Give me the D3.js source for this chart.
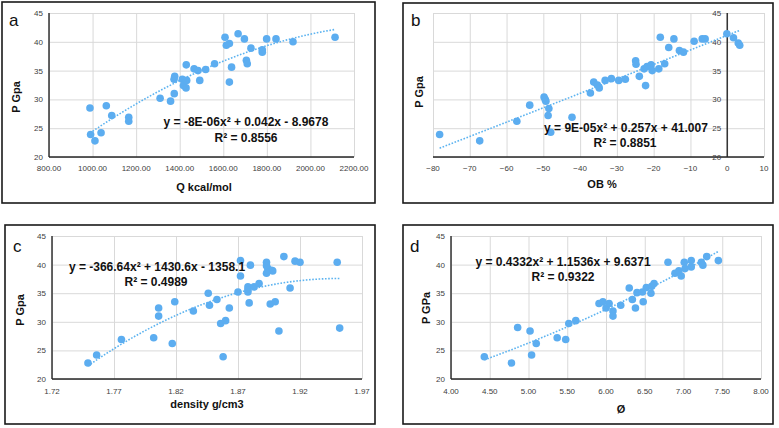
<!DOCTYPE html>
<html><head><meta charset="utf-8">
<script src="https://cdn.jsdelivr.net/npm/d3@7"></script>
<style>body{margin:0;background:#fff}svg{display:block}</style>
</head><body>
<svg id="chart" width="779" height="428"></svg>
<script>
// ---------- DATA ----------
// Panel a: heat of detonation Q (kcal/mol) vs P (GPa)
const heatQ = [988, 991, 1011, 1039, 1063, 1088, 1166, 1166, 1310, 1358, 1374, 1377, 1375, 1412, 1417, 1429, 1432, 1430, 1466, 1484, 1492, 1519, 1560, 1608, 1614, 1628, 1628, 1668, 1638, 1697, 1706, 1710, 1727, 1779, 1779, 1799, 1842, 1920, 2113];
const pressureA = [28.5, 23.9, 22.8, 24.2, 28.9, 27.2, 26.9, 26.2, 30.2, 29.7, 33.5, 34.0, 31.0, 33.5, 32.4, 32.0, 33.3, 36.0, 35.3, 35.0, 33.3, 35.2, 36.2, 40.8, 39.4, 39.7, 33.0, 41.4, 35.6, 40.5, 36.8, 36.2, 38.9, 38.6, 38.2, 40.5, 40.5, 40.0, 40.8];
// Panel b: oxygen balance OB % vs P
const oxygenBalance = [-78.2, -67.3, -57.2, -53.7, -49.8, -49.5, -49.3, -48.5, -48.7, -48.0, -42.2, -37.2, -36.3, -35.3, -34.8, -33.2, -31.5, -29.5, -27.7, -24.9, -24.8, -23.9, -22.2, -22.6, -21.8, -20.7, -20.4, -18.6, -18.2, -17.0, -15.9, -14.5, -13.0, -11.9, -9.0, -6.8, -6.0, -0.1, 1.7, 3.0, 3.4];
const pressureB = [23.9, 22.8, 26.2, 29.0, 30.4, 30.0, 29.7, 28.4, 27.2, 24.3, 26.9, 31.1, 33.0, 32.5, 32.0, 33.3, 33.6, 33.3, 33.5, 36.7, 36.1, 34.0, 32.4, 35.3, 35.7, 36.0, 35.0, 35.3, 40.8, 36.2, 39.0, 40.5, 38.5, 38.2, 40.1, 40.5, 40.5, 41.4, 40.7, 39.8, 39.4];
// Panel c: density g/cm3 vs P
const density = [1.749, 1.756, 1.776, 1.802, 1.806, 1.806, 1.817, 1.819, 1.834, 1.846, 1.847, 1.853, 1.856, 1.860, 1.858, 1.863, 1.870, 1.872, 1.872, 1.880, 1.878, 1.878, 1.878, 1.879, 1.883, 1.887, 1.893, 1.893, 1.894, 1.897, 1.898, 1.893, 1.896, 1.900, 1.903, 1.907, 1.912, 1.916, 1.920, 1.950, 1.952];
const pressureC = [22.8, 24.2, 26.9, 27.2, 32.4, 31.0, 26.2, 33.5, 31.9, 35.0, 32.9, 33.9, 29.7, 30.2, 23.9, 32.4, 35.2, 40.7, 38.0, 39.9, 36.1, 35.6, 35.2, 33.3, 36.1, 36.7, 40.4, 39.8, 39.3, 39.0, 38.9, 38.5, 33.1, 33.5, 28.4, 41.4, 35.9, 40.6, 40.4, 40.4, 28.9];
// Panel d: characteristic value Ø vs P
const phiValue = [4.43, 4.78, 4.86, 5.02, 5.04, 5.10, 5.37, 5.48, 5.52, 5.61, 5.91, 5.96, 6.00, 6.04, 6.09, 6.09, 6.19, 6.30, 6.34, 6.38, 6.40, 6.47, 6.48, 6.52, 6.58, 6.59, 6.62, 6.80, 6.89, 6.94, 6.97, 7.01, 7.02, 7.10, 7.10, 7.23, 7.25, 7.30, 7.45];
const pressureD = [23.9, 22.8, 29.0, 28.4, 24.2, 26.2, 27.2, 26.9, 29.7, 30.2, 33.2, 33.5, 32.4, 33.2, 31.9, 31.0, 32.9, 35.9, 33.9, 32.4, 35.1, 35.2, 33.5, 36.0, 35.0, 36.2, 36.7, 40.4, 38.5, 38.9, 38.0, 40.4, 39.3, 40.7, 39.6, 40.4, 39.9, 41.4, 40.7];

// tick labels
const xTicksA = [800, 1000, 1200, 1400, 1600, 1800, 2000, 2200];
const xTicksB = [-80, -70, -60, -50, -40, -30, -20, -10, 0, 10];
const xTicksC = [1.72, 1.77, 1.82, 1.87, 1.92, 1.97];
const xTicksD = [4.0, 4.5, 5.0, 5.5, 6.0, 6.5, 7.0, 7.5, 8.0];
const yTicks = [20, 25, 30, 35, 40, 45];

// texts
const panelLetters = ["a", "b", "c", "d"];
const xTitles = ["Q kcal/mol", "OB %", "density g/cm3", "Ø"];
const yTitles = ["P Gpa", "P Gpa", "P Gpa", "P GPa"];
const equations = ["y = -8E-06x² + 0.042x - 8.9678", "y = 9E-05x² + 0.257x + 41.007", "y = -366.64x² + 1430.6x - 1358.1", "y = 0.4332x² + 1.1536x + 9.6371"];
const r2Labels = ["R² = 0.8556", "R² = 0.8851", "R² = 0.4989", "R² = 0.9322"];

// ---------- LAYOUT ----------
const layout = [
  {box:[2,2,375,203], plot:[49,13,354,157], xs:xTicksA, fmt:d3.format(".2f"), xd:[800,2200], yAxisAt:null,
   letter:[9,26], xt:[204,191], yt:[20,97], eq:[246,126], r2:[246,142], xtBase:171},
  {box:[403,3,773,203], plot:[433,13,764,157], xs:xTicksB, fmt:d3.format("d"), xd:[-80,10], yAxisAt:0,
   letter:[411,26], xt:[602,188], yt:[423,92], eq:[626,132], r2:[625,147], xtBase:171},
  {box:[5,225,375,424], plot:[52,236,362,379], xs:xTicksC, fmt:d3.format(".2f"), xd:[1.72,1.97], yAxisAt:null,
   letter:[13,252], xt:[207,408], yt:[24,310], eq:[157,271], r2:[156,286], xtBase:394},
  {box:[403,225,773,424], plot:[451,236,761,379], xs:xTicksD, fmt:d3.format(".2f"), xd:[4,8], yAxisAt:null,
   letter:[410,252], xt:[621,413], yt:[430,308], eq:[563,266], r2:[563,281], xtBase:394}
];
const seriesX = [heatQ, oxygenBalance, density, phiValue];
const seriesY = [pressureA, pressureB, pressureC, pressureD];

const POINT = "#5cadf0", GRID = "#d9d9d9", AXIS = "#262626", TICK = "#404040";
const svg = d3.select("#chart");

// quadratic least squares
function quadFit(xs, ys) {
  const m = d3.mean(xs);
  const n = xs.length;
  let S = [0,0,0,0,0], T = [0,0,0];
  xs.forEach((x0, i) => {
    const x = x0 - m, y = ys[i];
    let p = 1;
    for (let k = 0; k < 5; k++) { S[k] += p; if (k < 3) T[k] += p * y; p *= x; }
  });
  const A = [[S[0],S[1],S[2],T[0]],[S[1],S[2],S[3],T[1]],[S[2],S[3],S[4],T[2]]];
  for (let i = 0; i < 3; i++) {
    for (let j = i + 1; j < 3; j++) {
      const f = A[j][i] / A[i][i];
      for (let k = i; k < 4; k++) A[j][k] -= f * A[i][k];
    }
  }
  const c = [0,0,0];
  for (let i = 2; i >= 0; i--) {
    let s = A[i][3];
    for (let k = i + 1; k < 3; k++) s -= A[i][k] * c[k];
    c[i] = s / A[i][i];
  }
  return x => { const t = x - m; return c[0] + c[1]*t + c[2]*t*t; };
}

layout.forEach((L, i) => {
  const g = svg.append("g");
  const [bx0, by0, bx1, by1] = L.box;
  const [px0, py0, px1, py1] = L.plot;
  const x = d3.scaleLinear().domain(L.xd).range([px0, px1]);
  const y = d3.scaleLinear().domain([20, 45]).range([py1, py0]);

  // outer frame
  g.append("rect").attr("x", bx0).attr("y", by0).attr("width", bx1 - bx0).attr("height", by1 - by0)
    .attr("fill", "#fff").attr("stroke", "#1a1a1a").attr("stroke-width", 1.6);

  // gridlines
  g.append("g").call(d3.axisLeft(y).tickValues(yTicks).tickSize(-(px1 - px0)).tickFormat(""))
    .attr("transform", `translate(${px0},0)`)
    .call(s => { s.select(".domain").remove(); s.selectAll("line").attr("stroke", GRID).attr("stroke-width", 1); });
  g.append("g").call(d3.axisBottom(x).tickValues(L.xs).tickSize(-(py1 - py0)).tickFormat(""))
    .attr("transform", `translate(0,${py1})`)
    .call(s => { s.select(".domain").remove(); s.selectAll("line").attr("stroke", GRID).attr("stroke-width", 1); });

  // axes lines
  g.append("line").attr("x1", px0).attr("x2", px1).attr("y1", py1).attr("y2", py1)
    .attr("stroke", AXIS).attr("stroke-width", 1.4);
  const ax = L.yAxisAt === null ? px0 : x(L.yAxisAt);
  g.append("line").attr("x1", ax).attr("x2", ax).attr("y1", py0).attr("y2", py1)
    .attr("stroke", AXIS).attr("stroke-width", 1.4);

  // x tick labels
  g.append("g").selectAll("text").data(L.xs).join("text")
    .attr("x", d => x(d)).attr("y", L.xtBase).attr("text-anchor", "middle")
    .attr("font-family", "Liberation Sans, Arial, sans-serif").attr("font-size", 8).attr("fill", TICK)
    .text(d => L.fmt(d));
  // y tick labels
  g.append("g").selectAll("text").data(yTicks).join("text")
    .attr("x", ax - 6).attr("y", d => y(d) + 3).attr("text-anchor", "end")
    .attr("font-family", "Liberation Sans, Arial, sans-serif").attr("font-size", 8).attr("fill", TICK)
    .text(d => d);

  // trendline
  const xs = seriesX[i], ys = seriesY[i];
  const f = quadFit(xs, ys);
  const [mn, mx] = d3.extent(xs);
  const samples = d3.range(0, 61).map(k => mn + (mx - mn) * k / 60);
  g.append("path").datum(samples)
    .attr("d", d3.line().x(d => x(d)).y(d => y(f(d))))
    .attr("fill", "none").attr("stroke", "#5cb3f0").attr("stroke-width", 1.6).attr("stroke-dasharray", "1.6,1.6");

  // points
  g.append("g").selectAll("circle").data(xs.map((v, k) => [v, ys[k]])).join("circle")
    .attr("cx", d => x(d[0])).attr("cy", d => y(d[1])).attr("r", 3.8).attr("fill", POINT);

  // equation text
  g.append("text").attr("x", L.eq[0]).attr("y", L.eq[1]).attr("text-anchor", "middle")
    .attr("font-family", "Liberation Sans, Arial, sans-serif").attr("font-weight", "bold").attr("font-size", 12).attr("fill", "#111")
    .text(equations[i]);
  g.append("text").attr("x", L.r2[0]).attr("y", L.r2[1]).attr("text-anchor", "middle")
    .attr("font-family", "Liberation Sans, Arial, sans-serif").attr("font-weight", "bold").attr("font-size", 12).attr("fill", "#111")
    .text(r2Labels[i]);

  // titles
  g.append("text").attr("x", L.xt[0]).attr("y", L.xt[1]).attr("text-anchor", "middle")
    .attr("font-family", "Liberation Sans, Arial, sans-serif").attr("font-weight", "bold").attr("font-size", 11).attr("fill", "#111")
    .text(xTitles[i]);
  g.append("text").attr("transform", `translate(${L.yt[0]},${L.yt[1]}) rotate(-90)`).attr("text-anchor", "middle")
    .attr("font-family", "Liberation Sans, Arial, sans-serif").attr("font-weight", "bold").attr("font-size", 11).attr("fill", "#111")
    .text(yTitles[i]);
  // panel letter
  g.append("text").attr("x", L.letter[0]).attr("y", L.letter[1])
    .attr("font-family", "Liberation Sans, Arial, sans-serif").attr("font-size", 17).attr("fill", "#111")
    .text(panelLetters[i]);
});
</script>
</body></html>
